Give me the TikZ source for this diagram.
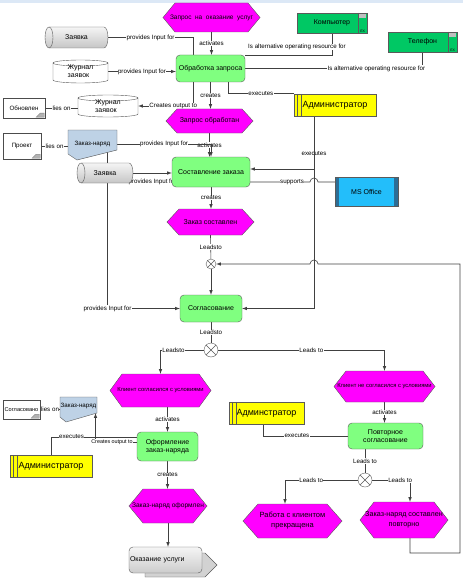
\documentclass[tikz,border=0pt]{standalone}
\usepackage{fontspec}
\setmainfont{Liberation Sans}
\usetikzlibrary{backgrounds}
\newcommand{\txtsmall}{\fontsize{6.2}{6.8}\selectfont}
\newcommand{\txtnode}{\fontsize{7}{8}\selectfont}
\newcommand{\txtbig}{\fontsize{9}{10}\selectfont}
\definecolor{evfill}{RGB}{255,0,255}
\definecolor{fnfill}{RGB}{128,255,128}
\definecolor{resfill}{RGB}{0,200,100}
\definecolor{admfill}{RGB}{255,255,0}
\definecolor{msfill}{RGB}{35,190,250}
\definecolor{msdark}{RGB}{45,110,150}
\definecolor{znfill}{RGB}{190,210,230}
\definecolor{bandfill}{RGB}{220,232,246}
\definecolor{edge}{RGB}{90,90,90}
\tikzstyle{event}=[rectangle,inner sep=0pt,align=center,font=\txtnode]
\tikzstyle{func}=[rectangle,rounded corners=4pt,fill=fnfill,draw=edge,inner sep=0pt,align=center,font=\txtnode]
\tikzstyle{holder}=[rectangle,inner sep=0pt,align=left,font=\txtnode]
\tikzstyle{res}=[rectangle,fill=resfill,draw=edge,inner sep=0pt,font=\txtnode]
\tikzstyle{role}=[rectangle,fill=admfill,draw=edge,inner sep=0pt,font=\txtbig]
\tikzstyle{doc}=[rectangle,fill=white,draw=black!70,inner sep=0pt,font=\txtnode]
\tikzstyle{gate}=[circle,fill=white,draw=edge,inner sep=0pt,path picture={\draw[edge] (path picture bounding box.north west) -- (path picture bounding box.south east) (path picture bounding box.north east) -- (path picture bounding box.south west);}]
\tikzstyle{lbl}=[fill=white,inner sep=0.3pt,font=\txtsmall]
\tikzstyle{conn}=[draw=black!75,line width=0.6pt]
% event hexagon: centre x, centre y, width, height, tip
\newcommand{\hexev}[5]{%
  \draw[edge,fill=evfill] ({#1-#3/2},#2) -- ({#1-#3/2+#5},{#2-#4/2}) -- ({#1+#3/2-#5},{#2-#4/2})
    -- ({#1+#3/2},#2) -- ({#1+#3/2-#5},{#2+#4/2}) -- ({#1-#3/2+#5},{#2+#4/2}) -- cycle;}
% lying cylinder: centre x, centre y, width, height
\newcommand{\cylh}[4]{%
  \draw[edge,top color=gray!8,bottom color=gray!45] ({#1-#3/2+4},{#2-#4/2}) -- ({#1+#3/2-4},{#2-#4/2})
    arc[start angle=-90,end angle=90,x radius=4,y radius=#4/2] -- ({#1-#3/2+4},{#2+#4/2})
    arc[start angle=90,end angle=270,x radius=4,y radius=#4/2];
  \draw[edge] ({#1-#3/2+4},{#2-#4/2}) arc[start angle=-90,end angle=90,x radius=4,y radius=#4/2];}
% standing drum: centre x, centre y, width, height
\newcommand{\cylv}[4]{%
  \draw[edge,fill=white] ({#1-#3/2},{#2-#4/2+3}) -- ({#1-#3/2},{#2+#4/2-3})
    arc[start angle=180,end angle=0,x radius=#3/2,y radius=3] -- ({#1+#3/2},{#2-#4/2+3})
    arc[start angle=0,end angle=-180,x radius=#3/2,y radius=3];
  \draw[edge] ({#1-#3/2},{#2-#4/2+3}) arc[start angle=180,end angle=0,x radius=#3/2,y radius=3];}

\begin{document}
\begin{tikzpicture}[x=1pt,y=-1pt,>=latex]
\useasboundingbox (0,0) rectangle (463,583);
\fill[bandfill] (0,0) rectangle (463,3);

%events
\hexev{211.5}{17.5}{97}{29}{12}
\node[event,minimum width=97,minimum height=29,font=\fontsize{6.5}{7.5}\selectfont] (evReq) at (211.5,17.5) {Запрос\ \ на\ \ оказание\ \ услуг};
\hexev{209.5}{121}{87}{24}{11}
\node[event,minimum width=87,minimum height=24] (evProc) at (209.5,121) {Запрос обработан};
\hexev{210.5}{222}{87}{26}{12}
\node[event,minimum width=87,minimum height=26] (evOrd) at (210.5,222) {Заказ составлен};
\hexev{160.5}{390.5}{101}{33}{12}
\node[event,minimum width=101,minimum height=33,font=\fontsize{5.8}{6.5}\selectfont] (evYes) at (160.5,390.5) {Клиент согласился с условиями};
\hexev{384.5}{386.5}{101}{31}{12}
\node[event,minimum width=101,minimum height=31,font=\fontsize{5.8}{6.5}\selectfont] (evNo) at (384.5,386.5) {Клиент не согласился с условиями};
\hexev{168}{506}{78}{34}{14}
\node[event,minimum width=78,minimum height=34,font=\fontsize{6.6}{7.5}\selectfont] (evDone) at (168,506) {Заказ-наряд оформлен};
\hexev{292.5}{521}{99}{34}{15}
\node[event,minimum width=99,minimum height=34,font=\fontsize{7.5}{10}\selectfont] (evStop) at (292.5,521) {Работа с клиентом\\прекращена};
\hexev{404}{520}{88}{36}{14}
\node[event,minimum width=88,minimum height=36,font=\fontsize{7.2}{10}\selectfont] (evRedo) at (404,520) {Заказ-наряд составлен\\повторно};

%functions
\node[func,minimum width=69,minimum height=27] (fnReq) at (210.5,68.5) {Обработка запроса};
\node[func,minimum width=78,minimum height=30] (fnOrd) at (211,172) {Составление заказа};
\node[func,minimum width=62,minimum height=27] (fnAgr) at (211,308.5) {Согласование};
\node[func,minimum width=61,minimum height=29] (fnDoc) at (167.5,446.5) {Оформление\\заказ-наряда};
\node[func,minimum width=75,minimum height=26] (fnRep) at (385.5,436) {Повторное\\согласование};

%data
\cylh{76.5}{37.5}{63}{21}
\node[holder,minimum width=63,minimum height=21] (store1) at (76.5,37.5) {Заявка};
\cylh{105}{173}{56}{20}
\node[holder,minimum width=56,minimum height=20] (store2) at (105,173) {Заявка};
\cylv{80.5}{71.5}{55}{23}
\node[holder,minimum width=55,minimum height=23] (jrn1) at (80.5,71.5) {Журнал\\заявок};
\cylv{108}{106}{60}{22}
\node[holder,minimum width=60,minimum height=22] (jrn2) at (108,106) {Журнал\\заявок};

%resources
\node[res,minimum width=70,minimum height=20] (resPC) at (332,23) {Компьютер};
\node[res,minimum width=69,minimum height=20] (resTel) at (422.5,42) {Телефон};
\foreach \r in {resPC,resTel} {
  \draw[edge] ([xshift=-9pt]\r.north east) -- ([xshift=-9pt]\r.south east);
  \fill[gray!50] ([xshift=-8pt,yshift=-1pt]\r.north east) rectangle ([xshift=-1pt,yshift=-5pt]\r.north east);
  \node[font=\fontsize{3.5}{4}\selectfont,inner sep=0.5pt,anchor=south] at ([xshift=-4.5pt]\r.south east) {EX};
}
\node[rectangle,fill=msfill,draw=edge,minimum width=63,minimum height=29,inner sep=0pt,font=\txtnode] (msOff) at (366.5,191.5) {MS Office};
\fill[msdark] (msOff.north west) rectangle ([xshift=4pt]msOff.south west);
\fill[msdark] ([xshift=-4pt]msOff.north east) rectangle (msOff.south east);
\draw[edge] (msOff.north west) rectangle (msOff.south east);

%roles
\node[role,minimum width=82,minimum height=22] (adm1) at (335,105) {Администратор};
\node[role,minimum width=82,minimum height=22] (adm2) at (51,466) {Администратор};
\node[role,minimum width=75,minimum height=22] (adm3) at (266.5,413) {Админстратор};
\foreach \r in {adm1,adm2,adm3}
  \draw[edge] ([xshift=3pt]\r.north west) -- ([xshift=3pt]\r.south west) ([xshift=7pt]\r.north west) -- ([xshift=7pt]\r.south west);

%documents
\node[doc,minimum width=42,minimum height=20,font=\txtsmall] (docUpd) at (24,108) {Обновлен};
\node[doc,minimum width=38,minimum height=26,font=\txtsmall] (docProj) at (22,146) {Проект};
\node[doc,minimum width=37,minimum height=19,font=\fontsize{5.6}{6}\selectfont] (docAgr) at (21.5,409.5) {Согласовано};
\foreach \d in {docUpd,docProj,docAgr}
  \filldraw[fill=gray!60,draw=gray] ([xshift=-9pt,yshift=1pt]\d.south east) -- ([xshift=-5pt,yshift=5pt]\d.south east) -- ([xshift=-1pt,yshift=5pt]\d.south east) -- ([xshift=-1pt,yshift=1pt]\d.south east) -- cycle;

%order forms
\filldraw[fill=znfill,draw=edge] (68,130) -- (117,130) -- (117,150) -- (77,160) -- (68,154) -- cycle;
\node[holder,minimum width=49,minimum height=16,font=\txtsmall] (zn1) at (92.5,144) {Заказ-наряд};
\filldraw[fill=znfill,draw=edge] (60,397) -- (97,397) -- (97,413) -- (66,422) -- (60,417) -- cycle;
\node[holder,minimum width=37,minimum height=14,font=\txtsmall] (zn2) at (78.5,406) {Заказ-наряд};

%interface
\filldraw[fill=gray!35,draw=edge] (145,553) -- (205,553) -- (217,565) -- (205,577) -- (145,577) -- cycle;
\node[rectangle,rounded corners=4pt,top color=gray!8,bottom color=gray!40,draw=edge,minimum width=73,minimum height=26,inner sep=1pt,text width=71,align=left,font=\txtnode] (ifc) at (165.5,560) {Оказание услуги};

%rules
\node[gate,minimum size=10] (g1) at (211,264) {};
\node[gate,minimum size=14] (g2) at (211,350) {};
\node[gate,minimum size=14] (g3) at (365,480) {};

\coordinate (jump1) at (318,182);
\coordinate (jump2) at (318,264);
\coordinate (loopR) at (460,553);

%connections
\begin{scope}[on background layer]
\draw[conn,->] (evReq.south) -- node[lbl]{activates} (evReq.south |- fnReq.north);
\draw[conn] (store1.east) -| node[lbl,pos=.25]{provides Input for} ([xshift=-17.5pt]fnReq.north);
\draw[conn,->] (jrn1.east) -- node[lbl]{provides Input for} (jrn1.east -| fnReq.west);
\draw[conn,->] ([xshift=-17.5pt]fnReq.south) |- node[lbl,pos=.68]{Creates output to} (jrn2.east);
\draw[conn] (docUpd.east) -- node[lbl]{lies on} (docUpd.east -| jrn2.west);
\draw[conn] (resPC.south) |- node[lbl,pos=.3,xshift=-35pt]{Is alternative operating resource for} ([yshift=-1pt]fnReq.north east);
\draw[conn] (resTel.south) |- node[lbl,pos=.63]{Is alternative operating resource for} (fnReq.east);
\draw[conn] (adm1.north west) -| node[lbl,pos=.25]{executes} ([xshift=17.5pt]fnReq.south);
\draw[conn,->] (fnReq.south) -- node[lbl]{creates} (fnReq.south |- evProc.north);

\draw[conn,->] (evProc.south) -- node[lbl]{activates} (evProc.south |- fnOrd.north);
\draw[conn,->] (zn1.east) -| node[lbl,pos=.25]{provides Input for} (fnOrd.north);
\draw[conn] (docProj.east) -- node[lbl]{lies on} (docProj.east -| zn1.west);
\draw[conn,->] (store2.east) -- node[lbl,below=5pt]{provides Input for} (store2.east -| fnOrd.west);
\draw[conn,->] ([xshift=-21pt]adm1.south) |- node[lbl,pos=.35]{executes} ([yshift=3pt]fnOrd.east);
\draw[conn,->] ([xshift=-21pt]adm1.south) |- (fnAgr.east);
\draw[conn] ([yshift=9.5pt]msOff.west) -- (jump1) arc[start angle=0,end angle=-180,radius=4] -- node[lbl,pos=.3]{supports} ([yshift=-10pt]fnOrd.east);
\draw[conn,->] (fnOrd.south) -- node[lbl]{creates} (fnOrd.south |- evOrd.north);
\draw[conn] (evOrd.south) -- node[lbl]{Leadsto} (g1);
\draw[conn,->] (g1) -- (fnAgr);
\draw[conn,->] ([xshift=15pt]zn1.south) |- node[lbl]{provides Input for} (fnAgr.west);

\draw[conn] (fnAgr) -- node[lbl]{Leadsto} (g2);
\draw[conn,->] (g2.west) -| node[lbl,pos=.35]{Leadsto} (evYes.north);
\draw[conn,->] (g2.east) -| node[lbl,pos=.28]{Leads to} (evNo.north);
\draw[conn,->] (fnDoc.north |- evYes.south) -- node[lbl]{activates} (fnDoc.north);
\draw[conn,->] ([yshift=4.5pt]fnDoc.west) -| node[lbl,pos=.3,font=\fontsize{5.4}{6}\selectfont]{Creates output to} ([xshift=17pt]zn2.south);
\draw[conn] (adm2.north) |- node[lbl,pos=.62]{executes} ([yshift=9.5pt]fnDoc.west);
\draw[conn] (docAgr.east) -- node[lbl]{lies on} (docAgr.east -| zn2.west);
\draw[conn,->] (fnDoc) -- node[lbl]{creates} (fnDoc.south |- evDone.north);
\draw[conn,->] (evDone.south) -- (evDone.south |- ifc.north);

\draw[conn,->] (evNo.south) -- node[lbl]{activates} (evNo.south |- fnRep.north);
\draw[conn] ([xshift=-3.5pt]adm3.south) |- node[lbl,pos=.7]{executes} (fnRep.west);
\draw[conn] (g3.north |- fnRep.south) -- node[lbl]{Leads to} (g3);
\draw[conn,->] (g3.west) -| node[lbl,pos=.32]{Leads to} ([xshift=-7.5pt]evStop.north);
\draw[conn,->] (g3.east) -| node[lbl,pos=.37]{Leads to} ([xshift=6pt]evRedo.north);
\draw[conn,->] ([xshift=6pt]evRedo.south) |- (loopR) |- (jump2) arc[start angle=0,end angle=-180,radius=4] -- (g1.east);
\end{scope}

\end{tikzpicture}
\end{document}
